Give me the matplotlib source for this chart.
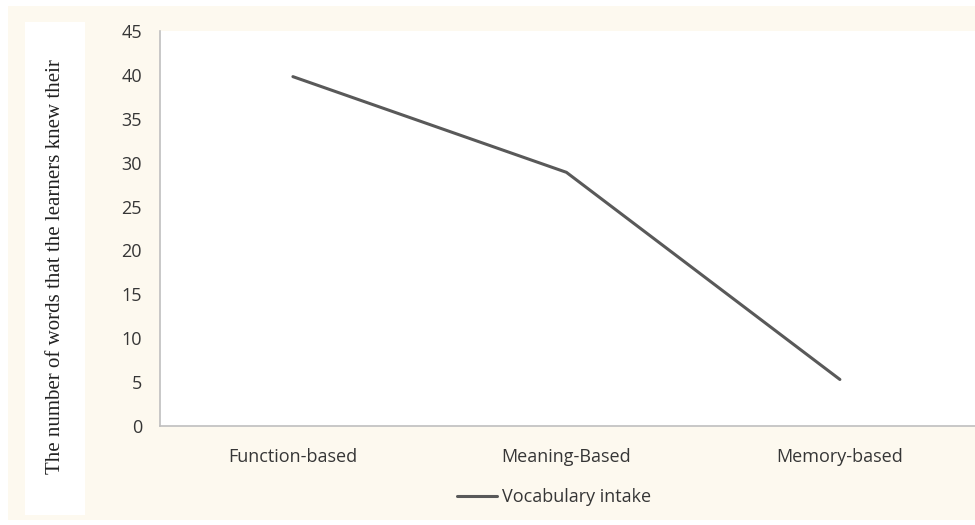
import matplotlib.pyplot as plt
from matplotlib.patches import Rectangle

# data
categories = ['Function-based', 'Meaning-Based', 'Memory-based']
vocabulary_intake = [39.8, 28.9, 5.3]
y_ticks = [0, 5, 10, 15, 20, 25, 30, 35, 40, 45]

W, H = 975, 525
CREAM = '#FDF9EF'
TEXT = '#363636'
FONT = 'Open Sans'

fig = plt.figure(figsize=(W / 100, H / 100), dpi=100, facecolor='white')

# cream backdrop and white box behind the y label (pixel coords -> figure fractions)
fig.patches.append(Rectangle((8 / W, 1 - 520 / H), 967 / W, 514 / H,
                             transform=fig.transFigure, facecolor=CREAM,
                             edgecolor='none', zorder=-2))
fig.patches.append(Rectangle((25 / W, 1 - 515 / H), 60 / W, 493 / H,
                             transform=fig.transFigure, facecolor='white',
                             edgecolor='none', zorder=-1))

ax = fig.add_axes([160 / W, 1 - 426 / H, 815 / W, 395 / H])
ax.set_zorder(2)
ax.set_facecolor('white')

x = list(range(len(categories)))
line, = ax.plot(x, vocabulary_intake, color='#595959', linewidth=2.2,
                solid_capstyle='round', solid_joinstyle='round',
                label='Vocabulary intake')

ax.set_xlim(-0.486, 2.494)
ax.set_ylim(0, 45)
ax.set_yticks(y_ticks)
ax.set_xticks(x)
ax.set_xticklabels(categories)

for side in ['top', 'right']:
    ax.spines[side].set_visible(False)
for side in ['left', 'bottom']:
    ax.spines[side].set_color('#BFBFBF')
    ax.spines[side].set_linewidth(1.2)

ax.tick_params(axis='both', length=0, colors=TEXT, labelsize=13)
ax.tick_params(axis='y', pad=13)
ax.tick_params(axis='x', pad=16)
for lbl in ax.get_xticklabels() + ax.get_yticklabels():
    lbl.set_fontfamily(FONT)

fig.text(56 / W, 1 - 267 / H, 'The number of words that the learners knew their',
         rotation=90, ha='center', va='center', fontsize=15,
         family='Liberation Serif', color='#222222')

fig.legend(handles=[line], loc='center left', bbox_to_anchor=(441 / W, 1 - 497 / H),
           frameon=False, handlelength=2.2, handletextpad=0.3,
           prop={'family': FONT, 'size': 13}, labelcolor=TEXT)

fig.savefig('out.png', dpi=100, facecolor=fig.get_facecolor())
